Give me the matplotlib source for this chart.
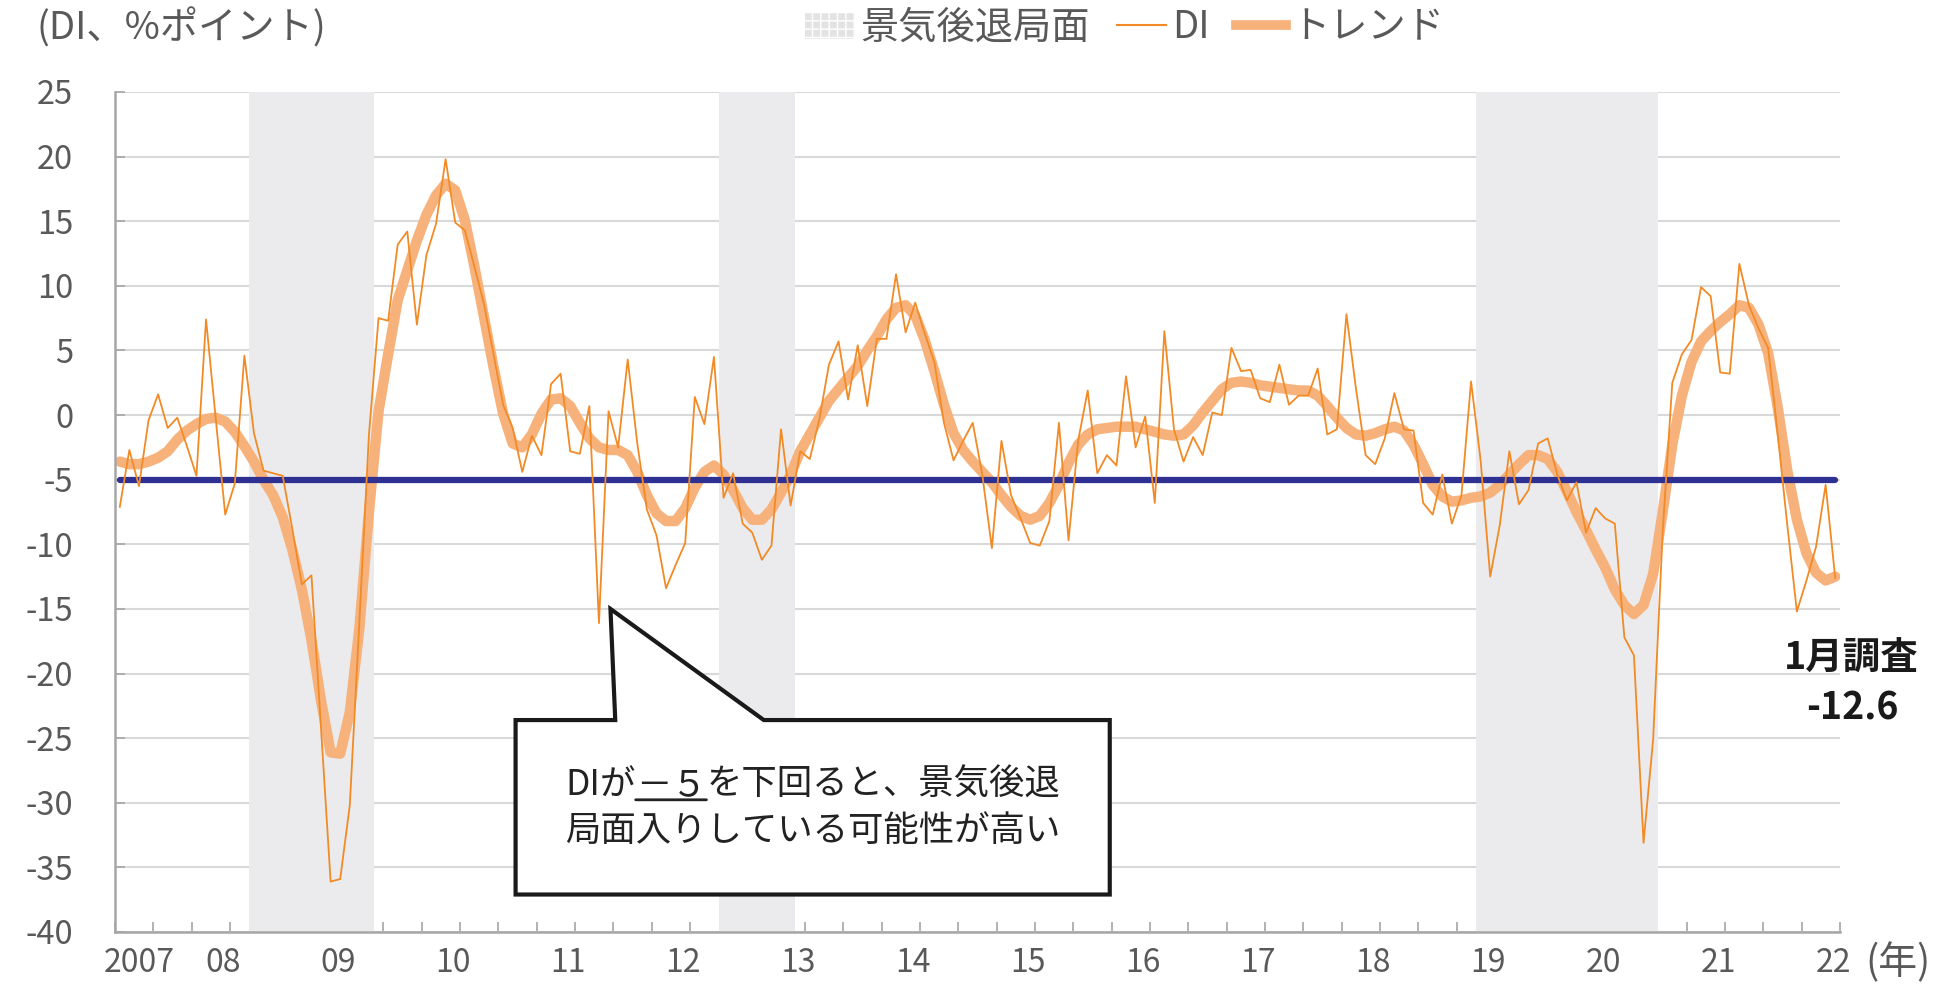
import numpy as np
import matplotlib
matplotlib.use("Agg")
import matplotlib.pyplot as plt
from matplotlib.patches import Patch, Polygon
from matplotlib.lines import Line2D

plt.rcParams['font.family'] = ['Noto Sans CJK JP', 'DejaVu Sans']
plt.rcParams['axes.unicode_minus'] = False

# monthly DI from Jan 2007 (last point = January survey)
di = [-7.1, -2.7, -5.5, -0.4, 1.6, -1.0, -0.2, -2.4, -4.7, 7.4, -0.2, -7.7,
      -5.3, 4.6, -1.4, -4.3, -4.5, -4.7, -8.8, -13.1, -12.4, -24.3, -36.1, -35.9,
      -30.2, -16.0, -1.5, 7.5, 7.3, 13.2, 14.2, 7.0, 12.4, 14.8, 19.8, 14.9,
      14.3, 11.5, 8.6, 4.7, 0.8, -1.0, -4.4, -1.6, -3.1, 2.4, 3.2, -2.8,
      -3.0, 0.7, -16.1, 0.3, -2.5, 4.3, -2.2, -7.3, -9.3, -13.4, -11.6, -9.9,
      1.4, -0.7, 4.5, -6.4, -4.5, -8.4, -9.1, -11.2, -10.1, -1.1, -7.0, -2.8,
      -3.4, -0.3, 3.9, 5.7, 1.2, 5.4, 0.7, 5.9, 5.9, 10.9, 6.4, 8.7,
      6.3, 4.1, -0.6, -3.5, -2.0, -0.6, -4.6, -10.3, -2.0, -6.2, -8.0, -9.9,
      -10.1, -8.2, -0.6, -9.7, -2.0, 1.9, -4.5, -3.1, -3.9, 3.0, -2.5, -0.1,
      -6.8, 6.5, -1.1, -3.6, -1.7, -3.1, 0.2, 0.0, 5.2, 3.4, 3.5, 1.3,
      1.0, 3.9, 0.8, 1.5, 1.5, 3.6, -1.5, -1.1, 7.8, 2.0, -3.1, -3.8,
      -1.8, 1.7, -1.1, -1.2, -6.8, -7.7, -4.6, -8.4, -6.2, 2.6, -3.5, -12.5,
      -8.5, -2.8, -6.9, -5.8, -2.2, -1.8, -4.6, -6.6, -5.2, -9.1, -7.2, -8.0,
      -8.4, -17.2, -18.6, -33.1, -25.1, -9.0, 2.5, 4.7, 5.8, 9.9, 9.2, 3.3,
      3.2, 11.7, 8.5, 6.7, 5.2, -1.5, -8.5, -15.2, -12.8, -10.2, -5.4, -12.6]

trend = [-3.6, -3.8, -3.8, -3.6, -3.3, -2.8, -1.9, -1.2, -0.7, -0.3, -0.2, -0.5,
         -1.3, -2.4, -3.6, -5.0, -6.2, -7.9, -10.4, -13.5, -17.4, -22.1, -26.1, -26.2,
         -23.0, -16.5, -7.5, 0.3, 4.7, 8.9, 11.2, 13.5, 15.5, 17.0, 17.9, 17.4,
         15.1, 11.5, 7.6, 3.7, 0.1, -2.2, -2.5, -1.5, 0.1, 1.2, 1.3, 0.7,
         -0.6, -1.8, -2.5, -2.7, -2.7, -3.1, -4.4, -6.2, -7.6, -8.2, -8.2, -7.2,
         -5.6, -4.4, -3.9, -4.6, -5.8, -7.2, -8.1, -8.1, -7.3, -6.0, -4.6, -2.8,
         -1.5, -0.2, 1.1, 2.0, 2.9, 3.8, 5.0, 6.1, 7.4, 8.3, 8.5, 7.7,
         5.8, 3.4, 0.8, -1.4, -2.7, -3.6, -4.4, -5.2, -6.2, -7.1, -7.8, -8.1,
         -7.8, -6.8, -5.4, -3.7, -2.3, -1.5, -1.1, -1.0, -0.9, -0.9, -0.9, -1.1,
         -1.3, -1.5, -1.6, -1.5, -0.8, 0.2, 1.1, 2.0, 2.5, 2.6, 2.5, 2.3,
         2.2, 2.1, 2.0, 1.9, 1.9, 1.5, 0.7, -0.2, -1.0, -1.5, -1.6, -1.4,
         -1.1, -0.9, -1.2, -2.3, -3.8, -5.4, -6.3, -6.7, -6.6, -6.4, -6.3, -6.0,
         -5.4, -4.6, -3.8, -3.1, -3.1, -3.4, -4.4, -5.9, -7.5, -8.9, -10.4, -11.8,
         -13.5, -14.7, -15.4, -14.7, -12.3, -7.5, -2.3, 1.5, 4.1, 5.7, 6.5, 7.2,
         7.8, 8.5, 8.3, 7.0, 4.8, 0.6, -4.3, -8.1, -10.7, -12.2, -12.8, -12.5]

threshold = -5
recessions = [("2008-03", "2009-03"), ("2012-04", "2012-11"), ("2018-11", "2020-05")]
year_labels = ["2007", "08", "09", "10", "11", "12", "13", "14", "15",
               "16", "17", "18", "19", "20", "21", "22"]

gray = '#595959'


def month_index(s):
    y, m = s.split("-")
    return (int(y) - 2007) * 12 + int(m) - 1


x = np.arange(len(di))

fig = plt.figure(figsize=(19.55, 9.84), dpi=100)
ax = fig.add_axes([115 / 1955, 1 - 932 / 984, 1725 / 1955, 840 / 984])

for a, b in recessions:
    ax.axvspan(month_index(a) - 0.5, month_index(b) + 0.5, color='#EBEBED', lw=0, zorder=1)

ax.plot(x, trend, color='#F7B27C', lw=7.5, solid_capstyle='round', zorder=2)
ax.plot(x, np.full(len(di), threshold), color='#2E3192', lw=4.5,
        solid_capstyle='round', zorder=3)
ax.plot(x, di, color='#F28A26', lw=1.3, zorder=4)

ax.set_xlim(-0.5, len(di) - 0.5)
ax.set_ylim(-40, 25)
ax.set_yticks(range(-40, 26, 5))
ax.set_xticks(np.arange(-0.5, len(di), 4))
ax.set_xticklabels([])
ax.tick_params(axis='y', direction='in', length=7, width=1.2, color='#A6A6A6',
               labelsize=23.5, labelcolor=gray, pad=30)
ax.tick_params(axis='x', direction='in', length=7, width=1.2, color='#A6A6A6')
ax.yaxis.grid(True, color='#D9D9D9', lw=1.5)
ax.set_axisbelow(True)
for s in ['top', 'right']:
    ax.spines[s].set_visible(False)
for s in ['left', 'bottom']:
    ax.spines[s].set_color('#A6A6A6')
    ax.spines[s].set_linewidth(1.8)

# year labels under the axis
label_pos = [2.0] + [12 * k - 1.2 for k in range(1, len(year_labels))]
for p, lab in zip(label_pos, year_labels):
    ax.text(p, -0.037, lab, transform=ax.get_xaxis_transform(), ha='center',
            va='center', fontsize=23, color=gray)
fig.text(1898 / 1955, 1 - 963 / 984, '(年)', ha='center', va='center',
         fontsize=28, color=gray)

fig.text(37 / 1955, 1 - 28 / 984, '(DI、%ポイント)', ha='left', va='center',
         fontsize=27.5, color=gray)

handles = [Patch(facecolor='#E3E3E3', edgecolor='white', hatch='++', lw=0),
           Line2D([], [], color='#F28A26', lw=1.5),
           Line2D([], [], color='#F7B27C', lw=7)]
ax.legend(handles, ['景気後退局面', 'DI', 'トレンド'], loc='center',
          bbox_to_anchor=(1125 / 1955, 1 - 28 / 984), bbox_transform=fig.transFigure,
          ncol=3, frameon=False, fontsize=27.5, labelcolor=gray, handlelength=1.3,
          handletextpad=0.15, columnspacing=0.7)

# callout box
box = Polygon([(41.3, -23.6), (51.7, -23.6), (51.2, -15.0), (67.2, -23.6),
               (103.3, -23.6), (103.3, -37.1), (41.3, -37.1)], closed=True,
              facecolor='white', edgecolor='#1a1a1a', lw=3, zorder=5,
              joinstyle='miter')
ax.add_patch(box)
tc = '#222222'
t1 = ax.text(46.5, -28.6, 'DIが', ha='left', va='center', fontsize=25.5, color=tc, zorder=6)
t2 = ax.annotate('－５', xy=(1, 0.5), xycoords=t1, ha='left', va='center',
                 fontsize=25.5, color=tc, zorder=6)
ax.annotate('を下回ると、景気後退', xy=(1, 0.5), xycoords=t2, ha='left', va='center',
            fontsize=25.5, color=tc, zorder=6)
ax.annotate('', xy=(0, 0.08), xycoords=t2, xytext=(1, 0.08), textcoords=t2,
            arrowprops=dict(arrowstyle='-', lw=2, color=tc, shrinkA=0, shrinkB=0),
            zorder=6)
ax.text(46.5, -32.2, '局面入りしている可能性が高い', ha='left', va='center',
        fontsize=25.5, color=tc, zorder=6)

fig.text(1851 / 1955, 1 - 657 / 984, '1月調査', ha='center', va='center',
         fontsize=27, fontweight='bold', color='#1a1a1a')
fig.text(1852 / 1955, 1 - 708 / 984, f'{di[-1]:.1f}', ha='center', va='center',
         fontsize=27, fontweight='bold', color='#1a1a1a')

fig.savefig('out.png', dpi=100)
